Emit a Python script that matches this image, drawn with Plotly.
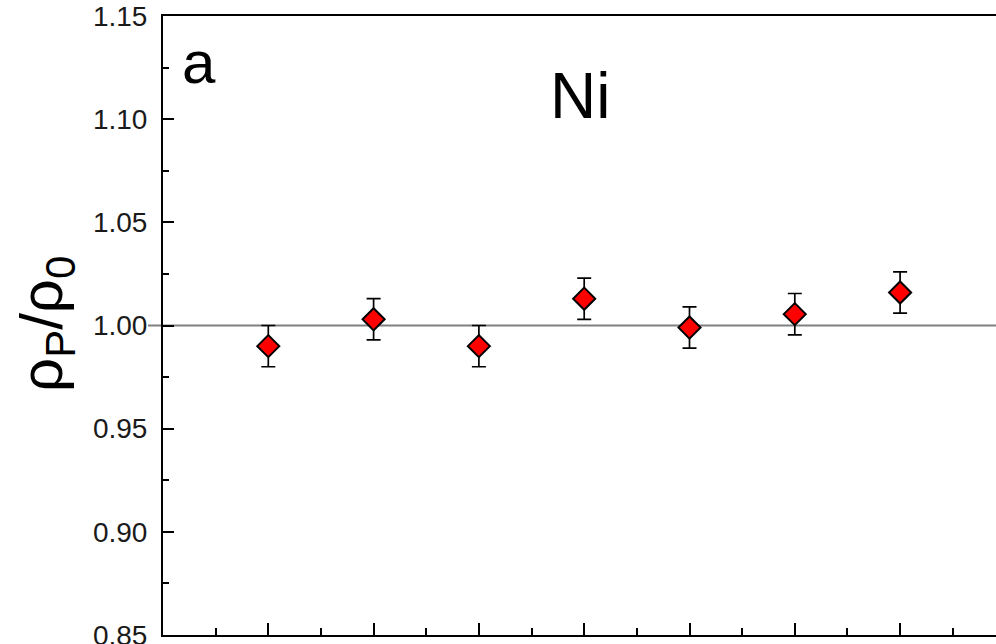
import plotly.graph_objects as go

# data
positions = [1, 2, 3, 4, 5, 6, 7]
ratio = [0.990, 1.003, 0.990, 1.013, 0.999, 1.0055, 1.016]
ratio_err = [0.010, 0.010, 0.010, 0.010, 0.010, 0.010, 0.010]
y_ticks = [0.85, 0.90, 0.95, 1.00, 1.05, 1.10, 1.15]
reference_level = 1.00

W, H = 996, 644
L, R, T, B = 163, 0, 16, 9
plot_w = W - L - R
plot_h = H - T - B
x_unit = 105.3  # px per x unit in the reference
x_max = plot_w / x_unit

fig = go.Figure()

fig.add_trace(go.Scatter(
    x=positions, y=ratio, mode="markers",
    marker=dict(symbol="diamond", size=17, color="#ff0000",
                line=dict(color="black", width=2)),
    error_y=dict(type="data", array=ratio_err, visible=True,
                 color="black", thickness=1.7, width=7),
    showlegend=False,
))

fig.add_shape(type="line", xref="paper", yref="y",
              x0=-15 / plot_w, x1=1, y0=reference_level, y1=reference_level,
              line=dict(color="#808080", width=2), layer="below")

fig.add_annotation(text="a", xref="paper", yref="paper",
                   x=(199 - L) / plot_w, y=(H - B - 62) / plot_h,
                   showarrow=False, font=dict(size=60, color="black"),
                   xanchor="center", yanchor="middle")
fig.add_annotation(text="Ni", xref="paper", yref="paper",
                   x=(580 - L) / plot_w, y=(H - B - 96) / plot_h,
                   showarrow=False, font=dict(size=64, color="black"),
                   xanchor="center", yanchor="middle")
fig.add_annotation(text="ρ<sub>P</sub>/ρ<sub>0</sub>", xref="paper", yref="paper",
                   x=(46 - L) / plot_w, y=(H - B - 324) / plot_h,
                   showarrow=False, textangle=-90,
                   font=dict(size=60, color="black"),
                   xanchor="center", yanchor="middle")

fig.update_layout(
    width=W, height=H,
    margin=dict(l=L, r=R, t=T, b=B, pad=0, autoexpand=False),
    paper_bgcolor="white", plot_bgcolor="white",
    font=dict(family="Liberation Sans, Arial, sans-serif", color="black"),
    xaxis=dict(range=[0, x_max], showgrid=False, zeroline=False, automargin=False,
               showline=True, linecolor="black", linewidth=2, mirror=True,
               ticks="inside", ticklen=12, tickwidth=2, tickcolor="black",
               dtick=1, tick0=0, showticklabels=False,
               minor=dict(ticks="inside", ticklen=7, tickwidth=2,
                          tickcolor="black", dtick=0.5, tick0=0)),
    yaxis=dict(range=[0.85, 1.15], showgrid=False, zeroline=False, automargin=False,
               showline=True, linecolor="black", linewidth=2, mirror=False,
               ticks="inside", ticklen=11, tickwidth=2, tickcolor="black",
               tickvals=y_ticks, tickformat=".2f",
               tickfont=dict(size=28, color="#1a1a1a"),
               ticklabelstandoff=8, ticklabeloverflow="allow",
               minor=dict(ticks="inside", ticklen=6, tickwidth=2,
                          tickcolor="black", dtick=0.025, tick0=0.85)),
)

fig.write_html("out.html", config={"displayModeBar": False},
               post_script="document.body.style.margin='0';")
